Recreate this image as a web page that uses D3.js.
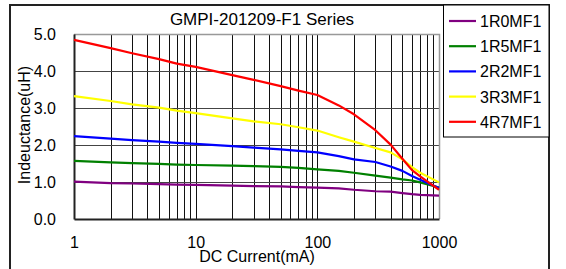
<!DOCTYPE html>
<html>
<head>
<meta charset="utf-8">
<script src="https://cdn.jsdelivr.net/npm/d3@7"></script>
<style>
  body { margin: 0; background: #fff; }
  text { font-family: "Liberation Sans", Arial, sans-serif; fill: #000; }
</style>
</head>
<body>
<svg class="chart-svg" width="566" height="269"></svg>
<script>
var current = [1, 2, 3, 5, 7, 10, 20, 30, 50, 70, 100, 150, 200, 300, 400, 500, 600, 700, 1000];

var r1R0 = [1.01, 0.97, 0.96, 0.94, 0.93, 0.92, 0.90, 0.89, 0.88, 0.86, 0.85, 0.83, 0.79, 0.75, 0.74, 0.70, 0.67, 0.65, 0.63];
var r1R5 = [1.57, 1.53, 1.51, 1.49, 1.47, 1.46, 1.44, 1.43, 1.41, 1.38, 1.34, 1.30, 1.25, 1.17, 1.12, 1.07, 1.04, 0.99, 0.85];
var r2R2 = [2.24, 2.17, 2.13, 2.09, 2.06, 2.03, 1.97, 1.93, 1.88, 1.84, 1.80, 1.70, 1.61, 1.54, 1.42, 1.30, 1.16, 1.06, 0.84];
var r3R3 = [3.32, 3.19, 3.10, 3.01, 2.93, 2.86, 2.72, 2.64, 2.56, 2.48, 2.39, 2.21, 2.09, 1.92, 1.80, 1.61, 1.40, 1.25, 0.99];
var r4R7 = [4.84, 4.62, 4.48, 4.32, 4.20, 4.11, 3.89, 3.76, 3.59, 3.47, 3.35, 3.07, 2.83, 2.40, 2.01, 1.63, 1.32, 1.15, 0.79];

var seriesNames = ["1R0MF1", "1R5MF1", "2R2MF1", "3R3MF1", "4R7MF1"];
var seriesColors = ["#800080", "#008000", "#0000ff", "#ffff00", "#ff0000"];
var seriesValues = [r1R0, r1R5, r2R2, r3R3, r4R7];

var xTicks = [1, 10, 100, 1000];
var yTicks = [0, 1, 2, 3, 4, 5];

var svg = d3.select(".chart-svg");

var plotLeft = 74, plotRight = 439, plotTop = 34, plotBottom = 219;

var x = d3.scaleLog().domain([1, 1000]).range([plotLeft, plotRight]);
var y = d3.scaleLinear().domain([0, 5]).range([plotBottom, plotTop]);

// outer frame
svg.append("path")
    .attr("d", "M10,269 L10,5 L549,5 L549,269")
    .attr("fill", "none")
    .attr("stroke", "#222")
    .attr("stroke-width", 2);

// minor vertical grid, 2..9 in every decade
var minor = [];
[1, 10, 100].forEach(function(d) {
    for (var k = 2; k <= 9; k++) minor.push(d * k);
});
minor.push(10, 100);

svg.append("g").selectAll("line")
    .data(minor).enter()
    .append("line")
    .attr("x1", function(d) { return Math.round(x(d)) + 0.5; })
    .attr("x2", function(d) { return Math.round(x(d)) + 0.5; })
    .attr("y1", plotTop).attr("y2", plotBottom)
    .attr("stroke", "#111")
    .attr("stroke-width", 1);

// horizontal grid
svg.append("g").selectAll("line")
    .data(yTicks.filter(function(d) { return d > 0 && d < 5; })).enter()
    .append("line")
    .attr("x1", plotLeft).attr("x2", plotRight)
    .attr("y1", function(d) { return Math.round(y(d)) + 0.5; })
    .attr("y2", function(d) { return Math.round(y(d)) + 0.5; })
    .attr("stroke", "#444")
    .attr("stroke-width", 1);

// top and right border (gray)
svg.append("path")
    .attr("d", "M" + plotLeft + "," + (plotTop + 0.5) + " L" + (plotRight + 0.5) + "," + (plotTop + 0.5) + " L" + (plotRight + 0.5) + "," + plotBottom)
    .attr("fill", "none")
    .attr("stroke", "#999")
    .attr("stroke-width", 1.5);

// axes
var xAxis = d3.axisBottom(x).tickValues(xTicks).tickSize(0).tickPadding(18)
    .tickFormat(d3.format("d"));
var gx = svg.append("g").attr("transform", "translate(0," + plotBottom + ")").call(xAxis);
gx.select(".domain").attr("stroke", "#222").attr("stroke-width", 2);
gx.selectAll("text").attr("font-size", 16).attr("font-family", "Liberation Sans, Arial, sans-serif");

var yAxis = d3.axisLeft(y).tickValues(yTicks).tickSize(0).tickPadding(18)
    .tickFormat(d3.format(".1f"));
var gy = svg.append("g").attr("transform", "translate(" + plotLeft + ",0)").call(yAxis);
gy.select(".domain").attr("stroke", "#222").attr("stroke-width", 2);
gy.selectAll("text").attr("font-size", 16).attr("font-family", "Liberation Sans, Arial, sans-serif");

// series lines
var line = d3.line()
    .x(function(d, i) { return x(current[i]); })
    .y(function(d) { return y(d); });

svg.append("g").selectAll("path")
    .data(seriesValues).enter()
    .append("path")
    .attr("d", line)
    .attr("fill", "none")
    .attr("stroke", function(d, i) { return seriesColors[i]; })
    .attr("stroke-width", 2.2)
    .attr("stroke-linejoin", "round");

// title and axis titles
svg.append("text")
    .attr("x", 262).attr("y", 25)
    .attr("text-anchor", "middle")
    .attr("font-size", 17)
    .text("GMPI-201209-F1 Series");

svg.append("text")
    .attr("x", 257).attr("y", 262)
    .attr("text-anchor", "middle")
    .attr("font-size", 16)
    .text("DC Current(mA)");

svg.append("text")
    .attr("transform", "translate(30,125) rotate(-90)")
    .attr("text-anchor", "middle")
    .attr("font-size", 16)
    .text("Indeuctance(uH)");

// legend
var legend = svg.append("g");
legend.append("rect")
    .attr("x", 443.5).attr("y", 5)
    .attr("width", 105.5).attr("height", 132)
    .attr("fill", "#fff")
    .attr("stroke", "#000")
    .attr("stroke-width", 1);

var items = legend.selectAll(".item")
    .data(seriesNames).enter()
    .append("g")
    .attr("transform", function(d, i) { return "translate(0," + (21 + i * 25.2) + ")"; });
items.append("line")
    .attr("x1", 449).attr("x2", 476)
    .attr("stroke", function(d, i) { return seriesColors[i]; })
    .attr("stroke-width", 2.2);
items.append("text")
    .attr("x", 480).attr("y", 6)
    .attr("font-size", 16)
    .text(function(d) { return d; });
</script>
</body>
</html>
